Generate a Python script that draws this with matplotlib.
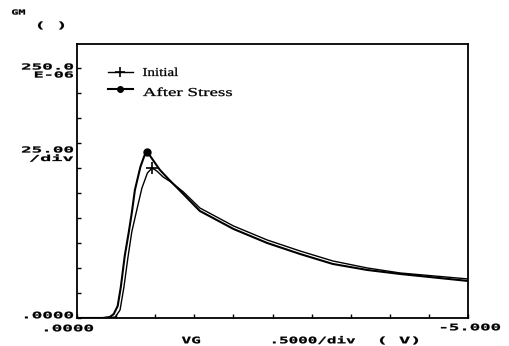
import matplotlib
matplotlib.use("Agg")
import matplotlib.pyplot as plt
from matplotlib.textpath import TextPath
from matplotlib.patches import PathPatch
from matplotlib.font_manager import FontProperties
from matplotlib.transforms import Affine2D

# gate voltage (V) and transconductance (uS)
vg_stress = [0.0, -0.33, -0.42, -0.47, -0.52, -0.56, -0.61, -0.66, -0.70, -0.74, -0.81, -0.86, -0.90,
             -0.97, -1.06, -1.18, -1.32, -1.57, -2.00, -2.43, -2.85, -3.27, -3.71, -4.13, -5.00]
gm_stress = [0, 0, 1, 4, 12, 31, 62, 85, 105, 128, 151, 162, 166,
             158, 148, 138, 127, 107, 89, 75, 64, 54, 48, 44, 37]

vg_init = [0.0, -0.38, -0.49, -0.55, -0.60, -0.65, -0.70, -0.77, -0.83, -0.90, -0.96,
           -1.02, -1.10, -1.20, -1.36, -1.57, -2.00, -2.43, -2.85, -3.27, -3.71, -4.13, -5.00]
gm_init = [0, 0, 1, 8, 31, 60, 86, 110, 130, 145, 150,
           147, 141, 136, 126, 110, 92, 78, 67, 57, 50, 45, 39]

labels = ['Initial', 'After Stress']
peak_stress = 12
peak_init = 10

W, H = 510, 346
fig = plt.figure(figsize=(5.1, 3.46), dpi=100)
ax = fig.add_axes([0.151, 0.081, 0.767, 0.792])

mono_fp = FontProperties(family='DejaVu Sans Mono', weight='bold')
serif_fp = FontProperties(family='Liberation Serif')
px = Affine2D().scale(1 / W, 1 / H) + fig.transFigure


# plotter font is wide and short, so stretch text paths to fit a pixel box
def hp_text(x0, x1, yc, s, cap=6.5, fp=mono_fp, capfrac=0.73):
    size = cap / capfrac
    tp = TextPath((0, 0), s, size=size, prop=fp)
    bb = tp.get_extents()
    sx = (x1 - x0) / bb.width
    tr = Affine2D().translate(-bb.x0, 0).scale(sx, 1).translate(x0, H - yc - cap / 2) + px
    fig.add_artist(PathPatch(tp, transform=tr, fc='black', ec='black', lw=0.2))


ax.plot(vg_init, gm_init, color='black', lw=1.0, marker='+', ms=9, mew=1.2,
        markevery=[peak_init], label=labels[0])
ax.plot(vg_stress, gm_stress, color='black', lw=1.5, marker='o', ms=5,
        markevery=[peak_stress], label=labels[1])

ax.set_xlim(0, -5.0)
ax.set_ylim(0, 274)
ax.set_xticks([-0.5 * i for i in range(11)])
ax.set_yticks([25 * i for i in range(11)])
ax.tick_params(direction='in', length=3, width=1, labelbottom=False, labelleft=False)
for s in ax.spines.values():
    s.set_linewidth(1.3)

leg = ax.legend(loc='upper left', bbox_to_anchor=(0.079, 0.915), frameon=False,
                borderpad=0, borderaxespad=0, handlelength=2.0, handletextpad=0.6,
                labelspacing=0.45, numpoints=1, markerscale=0.8, prop={'family': 'Liberation Serif', 'size': 9})
for t in leg.get_texts():
    t.set_color('none')

hp_text(143, 178, 72, labels[0], cap=8, fp=serif_fp, capfrac=0.66)
hp_text(143, 232, 92, labels[1], cap=8, fp=serif_fp, capfrac=0.66)

hp_text(12, 25, 12, 'GM', cap=5)
hp_text(38, 64, 25, '( )')
hp_text(22, 73, 66.5, '250.0', cap=6)
hp_text(35, 73, 74.5, 'E-06', cap=6)
hp_text(22, 73, 149.5, '25.00', cap=6)
hp_text(30, 73, 158, '/div', cap=6)
hp_text(25, 73, 315, '.0000')
hp_text(45, 93, 328, '.0000')
hp_text(441, 500, 327, '-5.000')
hp_text(182, 200, 340, 'VG')
hp_text(273, 355, 340, '.5000/div')
hp_text(380, 418, 340, '( V)')

fig.savefig('out.png', dpi=100)
